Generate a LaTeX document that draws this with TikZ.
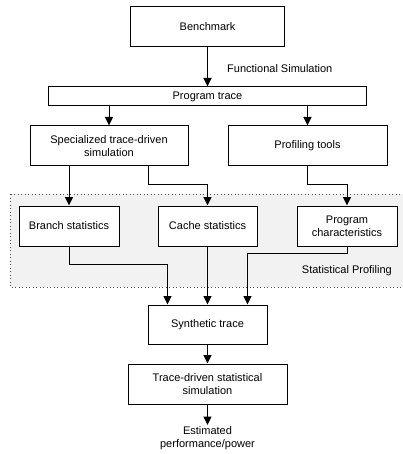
\documentclass[tikz,border=0pt]{standalone}
\usepackage{fontspec}
\setmainfont{Liberation Sans}
\usetikzlibrary{positioning,arrows.meta}

\tikzset{
    box/.style={draw=black, fill=white, line width=1pt, align=center, inner sep=2pt},
    arr/.style={-{Triangle[width=8pt,length=8.5pt]}, line width=1pt}
}

\begin{document}
\begin{tikzpicture}[x=1pt,y=-1pt,font=\fontsize{11}{13}\selectfont]
                \useasboundingbox (0,0) rectangle (403,454);
                
                % statistical profiling area
                \filldraw[fill=gray!10, draw=black!70, line width=1pt, dash pattern=on 0.9pt off 2.6pt] (10,194) rectangle (420,287);
                
                \node[box, minimum width=154pt, minimum height=40pt] (bench) at (207.5,27) {Benchmark};
                \node[box, minimum width=318pt, minimum height=19pt] (ptrace) at (207.5,96.5) {Program trace};
                \node[box, minimum width=158pt, minimum height=40pt] (spec) at (109,146) {Specialized trace-driven\\simulation};
                \node[box, minimum width=159pt, minimum height=40pt] (prof) at (307.5,146) {Profiling tools};
                
                \node[box, minimum width=100pt, minimum height=40pt] (branch) at (69,226) {Branch statistics};
                \node[box, minimum width=99pt, minimum height=40pt] (cache) at (207.5,226) {Cache statistics};
                \node[box, minimum width=100pt, minimum height=40pt] (pchar) at (347,226) {Program\\characteristics};
                
                \node[box, minimum width=119pt, minimum height=39pt] (synth) at (207.5,324.5) {Synthetic trace};
                \node[box, minimum width=159pt, minimum height=40pt] (tds) at (207.5,384) {Trace-driven statistical\\simulation};
                \node[align=center, inner sep=1pt, anchor=north] (est) at (207.5,425) {Estimated\\performance/power};
                
                \node[anchor=west, inner sep=0pt] (funcsim) at (227,69) {Functional Simulation};
                \node[anchor=east, inner sep=0pt] (statprof) at (392,271) {Statistical Profiling};
                
                \draw[arr] (bench) -- (ptrace);
                \draw[arr] (ptrace.south -| spec) -- (spec.north);
                \draw[arr] (ptrace.south -| prof) -- (prof.north);
                \draw[arr] (spec.south -| branch) -- (branch.north);
                \draw[arr] ([xshift=39pt]spec.south) -- ++(0,18) -| (cache.north);
                \draw[arr] (prof.south) -- ++(0,18) -| (pchar.north);
                
                \draw[arr] (branch.south) -- ++(0,18) -| ([xshift=-40pt]synth.north);
                \draw[arr] (cache) -- (synth);
                \draw[arr] (pchar.south) -- ++(0,7) -| ([xshift=40pt]synth.north);
                
                \draw[arr] (synth) -- (tds);
                \draw[arr] (tds) -- (est);
            \end{tikzpicture}
\end{document}
